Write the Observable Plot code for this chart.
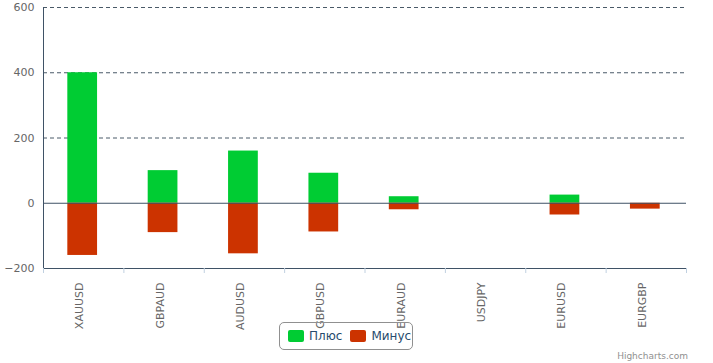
<!DOCTYPE html>
<html>
<head>
<meta charset="utf-8">
<script src="https://cdn.jsdelivr.net/npm/d3@7"></script>
<script src="https://cdn.jsdelivr.net/npm/@observablehq/plot@0.6"></script>
<style>
  html, body { margin: 0; padding: 0; background: #fff; }
  #wrap { position: relative; width: 713px; height: 363px; font-family: "DejaVu Sans", sans-serif; }
  #legend { position: absolute; left: 279px; top: 322px; width: 134px; height: 28px; box-sizing: border-box;
            border: 1px solid #909090; border-radius: 5px; display: flex; align-items: center; padding-left: 8px;
            font-size: 12px; color: #274b6d; }
  .sw { display: inline-block; width: 16px; height: 12px; border-radius: 2px; margin-right: 5px; }
  .item { display: flex; align-items: center; margin-right: 8px; }
  #credit { position: absolute; right: 25px; top: 351px; font-size: 9px; color: #909090; }
</style>
</head>
<body>
<div id="wrap">
  <div id="chart"></div>
  <div id="legend"></div>
  <div id="credit">Highcharts.com</div>
</div>
<script>
const categories = ["XAUUSD", "GBPAUD", "AUDUSD", "GBPUSD", "EURAUD", "USDJPY", "EURUSD", "EURGBP"];
const plusValues = [400, 100, 160, 92, 20, 0, 25, 0];
const minusValues = [-160, -90, -155, -88, -20, 0, -36, -18];
const seriesNames = ["Плюс", "Минус"];
const seriesColors = ["#00cc33", "#cc3300"];
const yTicks = [-200, 0, 200, 400, 600];

const data = [];
categories.forEach((c, i) => {
  data.push({cat: c, series: seriesNames[0], value: plusValues[i]});
  data.push({cat: c, series: seriesNames[1], value: minusValues[i]});
});

const W = 713, H = 363, mL = 43, mR = 27, mT = 7, mB = 95;
const step = (W - mL - mR) / categories.length;
const axisColor = "#3f5266";

const chart = Plot.plot({
  width: W, height: H,
  marginLeft: mL, marginRight: mR, marginTop: mT, marginBottom: mB,
  style: {fontFamily: "DejaVu Sans, sans-serif", background: "#fff", overflow: "visible"},
  x: {domain: categories, paddingInner: 0.63, paddingOuter: 0.315, round: false, label: null},
  y: {domain: [-200, 600], label: null},
  color: {domain: seriesNames, range: seriesColors},
  marks: [
    Plot.gridY(yTicks.filter(d => d > 0), {stroke: "#4a5a68", strokeOpacity: 1, strokeDasharray: "4,3"}),
    Plot.barY(data, {x: "cat", y: "value", fill: "series", dx: -1}),
    Plot.ruleY([0], {stroke: axisColor, strokeWidth: 1}),
    Plot.ruleY([-200], {stroke: axisColor, strokeWidth: 1}),
    Plot.ruleX([categories[0]], {dx: -step / 2, stroke: axisColor, strokeWidth: 1}),
    Plot.axisY({ticks: yTicks, tickSize: 0, tickPadding: 9, fontSize: 11, color: "#666", label: null}),
    Plot.axisX({ticks: categories, tickSize: 5, dx: -step / 2, tickFormat: () => "", stroke: "#c0d0e0", label: null}),
    Plot.axisX({ticks: [categories[categories.length - 1]], tickSize: 5, dx: step / 2, tickFormat: () => "", stroke: "#c0d0e0", label: null}),
    Plot.axisX({ticks: categories, tickSize: 0, tickRotate: -90, tickPadding: 14, fontSize: 11, color: "#666", dx: -4, label: null})
  ]
});
document.getElementById("chart").appendChild(chart);

const legend = document.getElementById("legend");
seriesNames.forEach((n, i) => {
  const item = document.createElement("div");
  item.className = "item";
  const sw = document.createElement("span");
  sw.className = "sw";
  sw.style.background = seriesColors[i];
  item.appendChild(sw);
  item.appendChild(document.createTextNode(n));
  legend.appendChild(item);
});
</script>
</body>
</html>
